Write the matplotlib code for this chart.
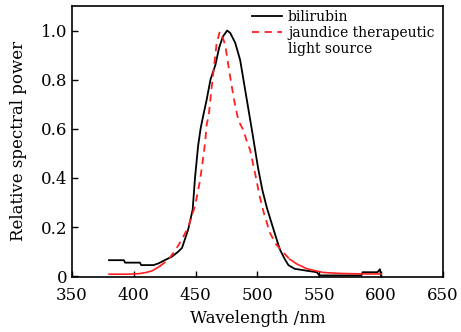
import numpy as np
import matplotlib.pyplot as plt
from matplotlib.lines import Line2D

# bilirubin absorption
bili_wl = [380, 392, 393, 405, 406, 416, 420, 425, 431, 436, 439, 444, 447.6,
           449.5, 452, 454, 456, 459, 462, 466, 469, 472, 475.5, 478, 482,
           486, 491, 496, 500.5, 504, 507.5, 513, 518, 522, 525, 530, 540,
           548, 550, 584, 585, 597, 599, 600]
bili_val = [0.065, 0.065, 0.055, 0.055, 0.045, 0.045, 0.052, 0.065, 0.08, 0.10,
            0.115, 0.19, 0.27, 0.40, 0.53, 0.60, 0.65, 0.72, 0.80, 0.86, 0.93,
            0.975, 1.0, 0.99, 0.95, 0.88, 0.73, 0.58, 0.44, 0.35, 0.28, 0.19,
            0.11, 0.07, 0.045, 0.03, 0.022, 0.016, 0.003, 0.003, 0.016, 0.016,
            0.028, 0.0]

# jaundice therapeutic light source spectrum
lamp_wl = [380, 395, 404, 410, 415, 421, 428, 433.6, 437.4, 441, 444, 449.5,
           453.6, 456.3, 457.6, 459, 460.5, 463, 467, 469.5, 472, 474, 477,
           479, 481, 484.5, 488.5, 492, 494, 498, 502, 505, 510, 515, 521,
           526, 532, 540, 553, 567, 586, 600]
lamp_val = [0.008, 0.008, 0.01, 0.015, 0.022, 0.04, 0.068, 0.105, 0.137, 0.17,
            0.2, 0.285, 0.39, 0.49, 0.54, 0.62, 0.65, 0.77, 0.948, 0.995, 0.97,
            0.94, 0.84, 0.78, 0.72, 0.635, 0.595, 0.54, 0.515, 0.42, 0.32,
            0.26, 0.177, 0.13, 0.096, 0.069, 0.049, 0.03, 0.015, 0.011, 0.009,
            0.009]

plt.rcParams['font.family'] = 'DejaVu Serif'
plt.rcParams['mathtext.fontset'] = 'dejavuserif'

fig = plt.figure(figsize=(4.61, 3.32), dpi=100)
ax = fig.add_axes([0.156, 0.166, 0.805, 0.816])

lw = np.array(lamp_wl)
lv = np.array(lamp_val)
mid = (lw >= 421) & (lw <= 526)

ax.plot(bili_wl, bili_val, color='black', lw=1.3)
# tails of the lamp curve are drawn solid in the original, the middle dashed
ax.plot(lw[lw <= 421], lv[lw <= 421], color='#ff2020', lw=1.2)
ax.plot(lw[lw >= 526], lv[lw >= 526], color='#ff2020', lw=1.2)
ax.plot(lw[mid], lv[mid], color='#ff2020', lw=1.3, ls=(0, (4, 3)))

ax.set_xlim(350, 650)
ax.set_ylim(-0.003, 1.1)
ax.set_xticks([350, 400, 450, 500, 550, 600, 650])
ax.set_yticks([0, 0.2, 0.4, 0.6, 0.8, 1.0])
ax.set_yticklabels(['0', '0.2', '0.4', '0.6', '0.8', '1.0'])
ax.tick_params(direction='in', length=4, labelsize=12, width=1)
ax.tick_params(axis='x', pad=7.5)
ax.tick_params(axis='y', pad=3)
for s in ax.spines.values():
    s.set_linewidth(1.2)

ax.set_xlabel('Wavelength /nm', fontsize=12, labelpad=4)
ax.set_ylabel('Relative spectral power', fontsize=12, labelpad=10)

handles = [Line2D([], [], color='black', lw=1.3),
           Line2D([], [], color='#ff2020', lw=1.3, ls=(0, (4, 3))),
           Line2D([], [], color='none')]
labels = ['bilirubin', 'jaundice therapeutic', 'light source']
ax.legend(handles, labels, loc='upper left', bbox_to_anchor=(0.485, 0.985),
          frameon=False, fontsize=10, borderpad=0, borderaxespad=0,
          handlelength=2.2, handletextpad=0.4, labelspacing=0.15)

fig.savefig('out.png', dpi=100)
